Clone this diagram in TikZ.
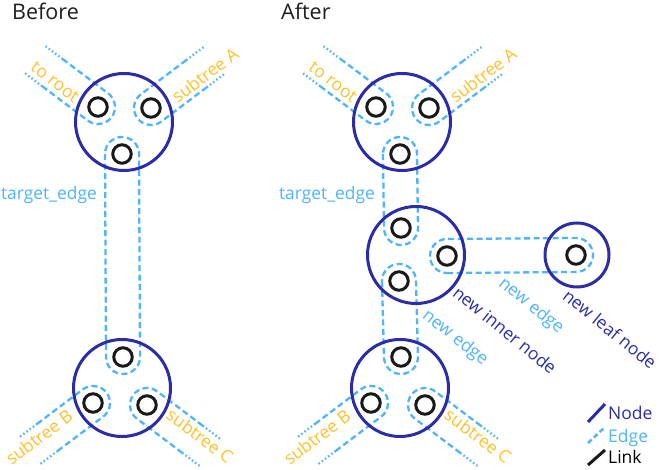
\documentclass[tikz,border=0pt]{standalone}
\usepackage{fontspec}
\setmainfont{Open Sans}
\usetikzlibrary{calc,backgrounds}
\definecolor{nodeblue}{RGB}{44,44,168}
\definecolor{edgeblue}{RGB}{78,180,255}
\definecolor{lblorange}{RGB}{255,192,40}
\definecolor{titlegray}{RGB}{30,30,30}
\tikzset{
 treenode/.style={circle,draw=nodeblue,line width=3pt,minimum size=97pt,inner sep=0pt},
 leafnode/.style={treenode,minimum size=64pt},
 linknode/.style={circle,draw=black!90,line width=3pt,minimum size=18.5pt,inner sep=0pt},
 edgeline/.style={draw=edgeblue,line width=2.3pt,dash pattern=on 6pt off 3.5pt},
 edgedots/.style={draw=edgeblue,line width=2.3pt,dash pattern=on 1.5pt off 2.5pt},
 lbl/.style={font=\fontsize{17.4}{21}\selectfont,inner sep=0pt},
 sublbl/.style={lbl,text=lblorange},
 edgelbl/.style={lbl,text=edgeblue},
 nodelbl/.style={lbl,text=nodeblue},
 titletext/.style={font=\fontsize{21.5}{26}\selectfont,text=titlegray,inner sep=0pt,anchor=base west},
 legtext/.style={font=\fontsize{17.5}{21}\selectfont,inner sep=0pt,anchor=base west},
}
\def\er{17}
\newcommand\stadium[2]{%
 \draw[edgeline] let \p1=($(#2.center)-(#1.center)$), \n1={atan2(\y1,\x1)} in
  ($(#1.center)+(\n1-90:\er)$) -- ($(#2.center)+(\n1-90:\er)$)
  arc[start angle=\n1-90, delta angle=180, radius=\er]
  -- ($(#1.center)+(\n1+90:\er)$)
  arc[start angle=\n1+90, delta angle=180, radius=\er] -- cycle;}
\newcommand\halfedge[2]{%
 \draw[edgeline] ($(#1.center)+(#2:57)+(#2+90:\er)$) -- ($(#1.center)+(#2+90:\er)$)
  arc[start angle=#2+90, delta angle=180, radius=\er]
  -- ($(#1.center)+(#2:57)+(#2-90:\er)$);
 \draw[edgedots] ($(#1.center)+(#2:57)+(#2+90:\er)$) -- ($(#1.center)+(#2:79)+(#2+90:\er)$);
 \draw[edgedots] ($(#1.center)+(#2:57)+(#2-90:\er)$) -- ($(#1.center)+(#2:79)+(#2-90:\er)$);}
\begin{document}
\begin{tikzpicture}[x=1pt,y=1pt]
\useasboundingbox (0,0) rectangle (661,470);
% titles
\node[titletext] (tB) at (12,450) {Before};
\node[titletext] (tA) at (281,450) {After};
% ---------- Before ----------
\node[treenode] (N1) at (124,348) {};
\node[linknode] (L1a) at (98,363) {};
\node[linknode] (L1b) at (151,362) {};
\node[linknode] (L1c) at (122,316) {};
\node[treenode] (N2) at (122,82) {};
\node[linknode] (L2a) at (123,113) {};
\node[linknode] (L2b) at (93,67) {};
\node[linknode] (L2c) at (147,65) {};
% ---------- After ----------
\node[treenode] (N3) at (402,348) {};
\node[linknode] (L3a) at (376,363) {};
\node[linknode] (L3b) at (429,362) {};
\node[linknode] (L3c) at (400,316) {};
\node[treenode] (N4) at (416,215) {};
\node[linknode] (L4a) at (401,242) {};
\node[linknode] (L4b) at (447,214) {};
\node[linknode] (L4c) at (399,189) {};
\node[leafnode] (N5) at (577,215) {};
\node[linknode] (L5a) at (576,215) {};
\node[treenode] (N6) at (400,82) {};
\node[linknode] (L6a) at (401,113) {};
\node[linknode] (L6b) at (371,67) {};
\node[linknode] (L6c) at (425,65) {};
% edges
\begin{pgfonlayer}{background}
\stadium{L1c}{L2a}
\halfedge{L1a}{143}
\halfedge{L1b}{37}
\halfedge{L2b}{217}
\halfedge{L2c}{-37}
\stadium{L3c}{L4a}
\stadium{L4c}{L6a}
\stadium{L4b}{L5a}
\halfedge{L3a}{143}
\halfedge{L3b}{37}
\halfedge{L6b}{217}
\halfedge{L6c}{-37}
\end{pgfonlayer}
% labels
\node[sublbl,rotate=-37] (lr1) at (55,388) {to root};
\node[sublbl,rotate=37] (la1) at (205,395) {subtree A};
\node[sublbl,rotate=37] (lb1) at (39,33) {subtree B};
\node[sublbl,rotate=-37] (lc1) at (200,34) {subtree C};
\node[edgelbl,anchor=base east] (te1) at (97,270) {target\_edge};
\node[sublbl,rotate=-37] (lr2) at (333,388) {to root};
\node[sublbl,rotate=37] (la2) at (483,395) {subtree A};
\node[sublbl,rotate=37] (lb2) at (317,33) {subtree B};
\node[sublbl,rotate=-37] (lc2) at (478,34) {subtree C};
\node[edgelbl,anchor=base east] (te2) at (375,270) {target\_edge};
\node[edgelbl,rotate=-38] (ne1) at (455,132) {new edge};
\node[edgelbl,rotate=-39] (ne2) at (531,164) {new edge};
\node[nodelbl,rotate=-39] (nin) at (505,140) {new inner node};
\node[nodelbl,rotate=-39] (nln) at (610,141) {new leaf node};
% legend
\node[legtext,text=nodeblue] (gN) at (608,50) {Node};
\node[legtext,text=edgeblue] (gE) at (608,27) {Edge};
\node[legtext,text=black] (gL) at (608,6) {Link};
\coordinate (gN1) at ($(gN.base west)+(-20,-2)$);
\coordinate (gN2) at ($(gN.base west)+(-3,16)$);
\coordinate (gE1) at ($(gE.base west)+(-20,0)$);
\coordinate (gE2) at ($(gE.base west)+(-3,16)$);
\coordinate (gL1) at ($(gL.base west)+(-20,-1)$);
\coordinate (gL2) at ($(gL.base west)+(-3,14)$);
\draw[nodeblue,line width=3pt] (gN1) -- (gN2);
\draw[edgeline,line width=2.5pt,dash pattern=on 5pt off 3pt] (gE1) -- (gE2);
\draw[black!90,line width=3pt] (gL1) -- (gL2);
\end{tikzpicture}
\end{document}
